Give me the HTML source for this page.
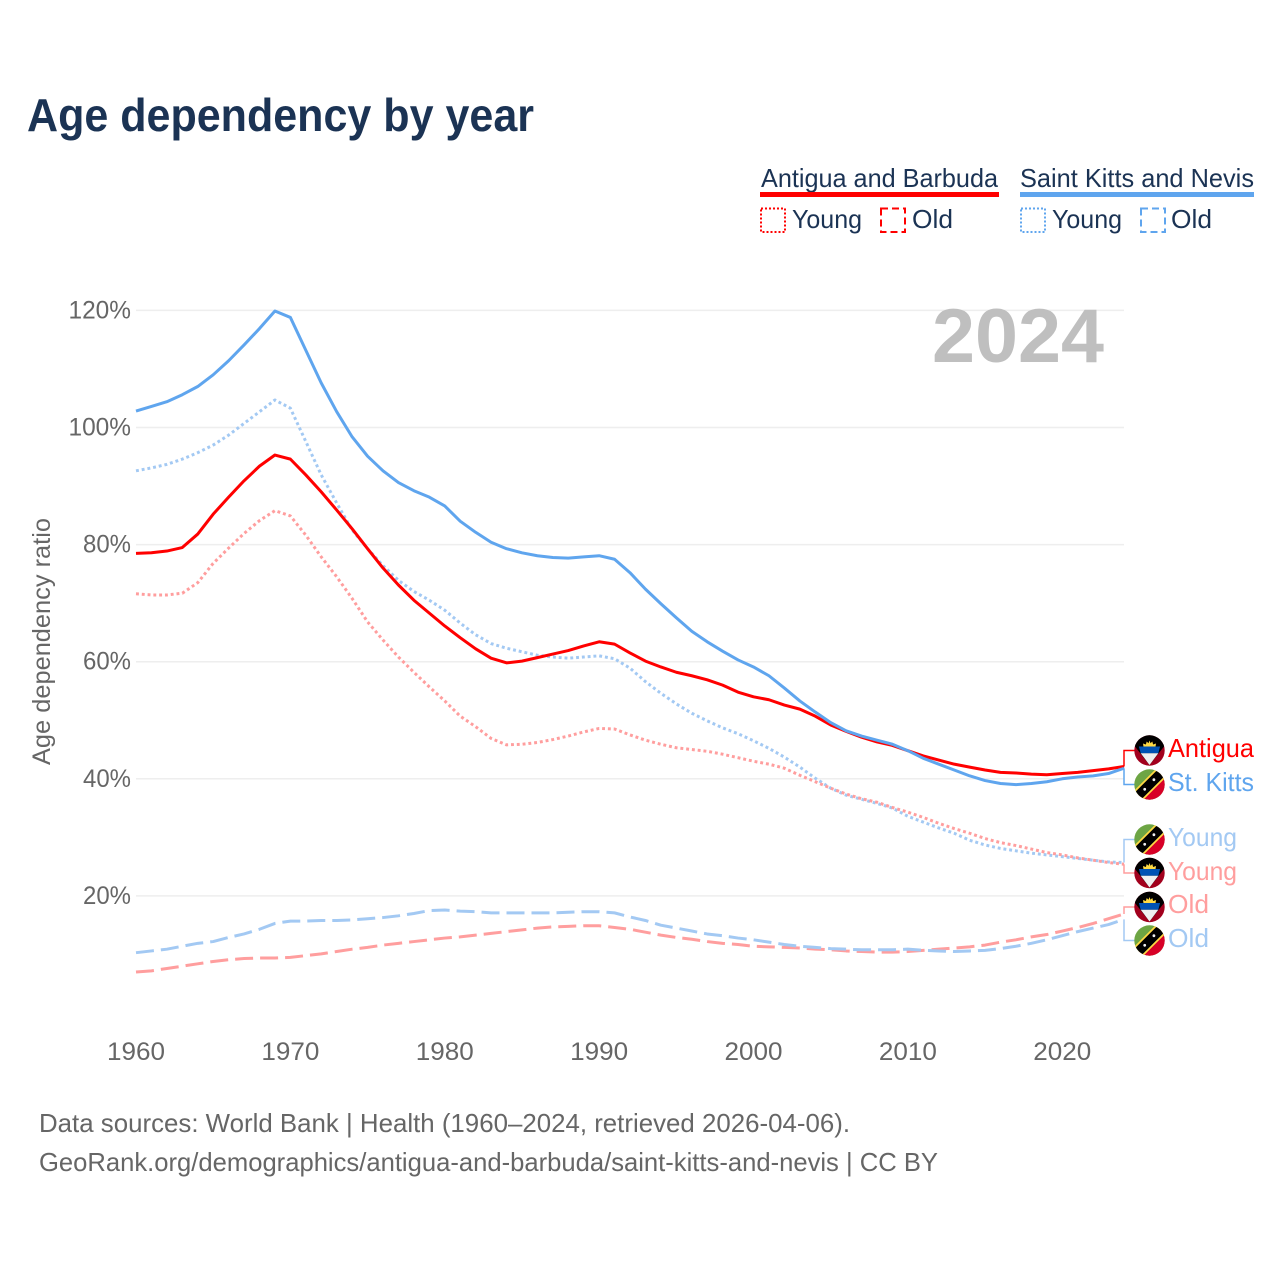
<!DOCTYPE html>
<html lang="en">
<head>
<meta charset="utf-8">
<title>Age dependency by year</title>
<style>
html,body{margin:0;padding:0;background:#fff;}
svg{display:block;}
text{font-family:"Liberation Sans",sans-serif;}
</style>
</head>
<body>
<svg id="chart" xmlns="http://www.w3.org/2000/svg" width="1280" height="1280" viewBox="0 0 1280 1280">
<defs>
<clipPath id="flag-clip"><circle cx="0" cy="0" r="15.2"/></clipPath>
<g id="flag-ag" clip-path="url(#flag-clip)">
<rect x="-16" y="-16" width="32" height="32" fill="#a2001d"/>
<polygon points="0,14.5 24,-16 -24,-16" fill="#000"/>
<polygon points="-6,-3.6 -6.5,-7 -3.6,-6 -2.8,-9 -1,-7.2 0,-10 1,-7.2 2.8,-9 3.6,-6 6.5,-7 6,-3.6" fill="#ffda44"/>
<polygon points="-10.6,-4 10.6,-4 8.8,2.7 -8.8,2.7" fill="#0052b4"/>
<polygon points="-8.8,2.7 8.8,2.7 0,14.5" fill="#f0f0f0"/>
</g>
<g id="flag-kn" clip-path="url(#flag-clip)">
<rect x="-16" y="-16" width="32" height="32" fill="#6da544"/>
<polygon points="16,-16 16,16 -16,16" fill="#d80027"/>
<line x1="-17" y1="17" x2="17" y2="-17" stroke="#ffda44" stroke-width="13"/>
<line x1="-17" y1="17" x2="17" y2="-17" stroke="#000" stroke-width="9.5"/>
<circle cx="-4.8" cy="4.8" r="1.4" fill="#f0f0f0"/>
<circle cx="4.4" cy="-4.8" r="1.4" fill="#f0f0f0"/>
</g>
</defs>

<text x="27" y="131" font-size="46" font-weight="700" fill="#1b3354" textLength="507" lengthAdjust="spacingAndGlyphs">Age dependency by year</text>

<g>
<text x="761" y="187" font-size="26" fill="#1b3354" textLength="237" lengthAdjust="spacingAndGlyphs">Antigua and Barbuda</text>
<rect x="760" y="192" width="239" height="5" fill="#ff0000"/>
<rect x="761" y="208.5" width="24" height="23.5" fill="none" stroke="#ff0000" stroke-width="2" stroke-dasharray="2 2"/>
<text x="792" y="228" font-size="26" fill="#1b3354" textLength="70" lengthAdjust="spacingAndGlyphs">Young</text>
<rect x="881" y="208.5" width="24" height="23.5" fill="none" stroke="#ff0000" stroke-width="2" stroke-dasharray="7 4"/>
<text x="912" y="228" font-size="26" fill="#1b3354" textLength="41" lengthAdjust="spacingAndGlyphs">Old</text>
<text x="1020" y="187" font-size="26" fill="#1b3354" textLength="234" lengthAdjust="spacingAndGlyphs">Saint Kitts and Nevis</text>
<rect x="1020" y="192" width="234" height="5" fill="#5fa5ee"/>
<rect x="1021" y="208.5" width="24" height="23.5" fill="none" stroke="#5fa5ee" stroke-width="2" stroke-dasharray="2 2"/>
<text x="1052" y="228" font-size="26" fill="#1b3354" textLength="70" lengthAdjust="spacingAndGlyphs">Young</text>
<rect x="1141" y="208.5" width="24" height="23.5" fill="none" stroke="#5fa5ee" stroke-width="2" stroke-dasharray="7 4"/>
<text x="1171" y="228" font-size="26" fill="#1b3354" textLength="41" lengthAdjust="spacingAndGlyphs">Old</text>
</g>

<g id="grid"></g>
<g id="y-ticks"></g>
<g id="x-ticks"></g>

<text x="932" y="362" font-size="76" font-weight="700" fill="#bfbfbf" textLength="172" lengthAdjust="spacingAndGlyphs">2024</text>

<text transform="translate(50,765) rotate(-90)" x="0" y="0" font-size="25" fill="#666666" textLength="247" lengthAdjust="spacingAndGlyphs">Age dependency ratio</text>

<g id="series"></g>
<g id="connectors"></g>

<g>
<use href="#flag-ag" x="1149.5" y="750.5"/>
<use href="#flag-kn" x="1149.5" y="784.5"/>
<use href="#flag-kn" x="1149.5" y="839.5"/>
<use href="#flag-ag" x="1149.5" y="873"/>
<use href="#flag-ag" x="1149.5" y="907"/>
<use href="#flag-kn" x="1149.5" y="940.5"/>
<text x="1168" y="757" font-size="26" fill="#ff0000" textLength="86" lengthAdjust="spacingAndGlyphs">Antigua</text>
<text x="1168" y="791" font-size="26" fill="#5fa5ee" textLength="86" lengthAdjust="spacingAndGlyphs">St. Kitts</text>
<text x="1168" y="846" font-size="26" fill="#a3c9f3" textLength="69" lengthAdjust="spacingAndGlyphs">Young</text>
<text x="1168" y="880" font-size="26" fill="#ff9e9e" textLength="69" lengthAdjust="spacingAndGlyphs">Young</text>
<text x="1168" y="913" font-size="26" fill="#ff9e9e" textLength="41" lengthAdjust="spacingAndGlyphs">Old</text>
<text x="1168" y="947" font-size="26" fill="#a3c9f3" textLength="41" lengthAdjust="spacingAndGlyphs">Old</text>
</g>

<text x="39" y="1132" font-size="26" fill="#666666" textLength="811" lengthAdjust="spacingAndGlyphs">Data sources: World Bank | Health (1960–2024, retrieved 2026-04-06).</text>
<text x="39" y="1171" font-size="26" fill="#666666" textLength="899" lengthAdjust="spacingAndGlyphs">GeoRank.org/demographics/antigua-and-barbuda/saint-kitts-and-nevis | CC BY</text>
</svg>

<script>
const years = [1960,1961,1962,1963,1964,1965,1966,1967,1968,1969,1970,1971,1972,1973,1974,1975,1976,1977,1978,1979,1980,1981,1982,1983,1984,1985,1986,1987,1988,1989,1990,1991,1992,1993,1994,1995,1996,1997,1998,1999,2000,2001,2002,2003,2004,2005,2006,2007,2008,2009,2010,2011,2012,2013,2014,2015,2016,2017,2018,2019,2020,2021,2022,2023,2024];
const antiguaTotal = [78.5,78.6,78.9,79.5,81.8,85.2,88.1,90.9,93.4,95.3,94.6,91.9,89.0,85.9,82.7,79.3,76.0,73.1,70.5,68.3,66.1,64.1,62.2,60.6,59.8,60.1,60.7,61.3,61.9,62.7,63.4,63.0,61.5,60.1,59.1,58.2,57.6,56.9,56.0,54.8,54.0,53.5,52.6,51.9,50.7,49.2,48.1,47.1,46.3,45.7,44.8,43.9,43.2,42.5,42.0,41.5,41.1,41.0,40.8,40.7,40.9,41.1,41.4,41.7,42.1];
const kittsTotal = [102.8,103.6,104.4,105.6,107.0,109.0,111.4,114.1,116.9,119.9,118.8,113.2,107.6,102.7,98.4,95.1,92.6,90.6,89.2,88.1,86.6,84.0,82.1,80.4,79.3,78.6,78.1,77.8,77.7,77.9,78.1,77.5,75.2,72.4,69.9,67.5,65.2,63.4,61.8,60.3,59.1,57.6,55.5,53.3,51.4,49.6,48.2,47.3,46.6,45.9,44.8,43.5,42.5,41.5,40.5,39.7,39.2,39.0,39.2,39.5,40.0,40.3,40.5,40.9,41.8];
const kittsYoung = [92.6,93.1,93.7,94.6,95.7,97.0,98.7,100.7,102.7,104.7,103.3,97.6,91.9,87.1,82.5,79.3,76.4,73.9,72.0,70.5,68.8,66.6,64.6,63.1,62.3,61.7,61.1,60.8,60.6,60.8,61.0,60.5,58.9,56.6,54.6,52.8,51.2,49.9,48.7,47.7,46.5,45.2,43.7,42.0,40.1,38.4,37.2,36.5,35.8,35.0,33.6,32.6,31.6,30.7,29.5,28.7,28.1,27.7,27.3,27.0,26.7,26.4,26.1,25.8,25.7];
const antiguaYoung = [71.6,71.4,71.4,71.7,73.5,76.8,79.4,81.9,84.1,85.8,84.9,81.6,77.9,74.5,70.8,66.8,63.7,60.8,58.2,55.7,53.3,50.7,48.9,46.9,45.8,45.9,46.2,46.7,47.3,48.0,48.6,48.5,47.5,46.6,45.9,45.3,45.0,44.7,44.2,43.6,43.0,42.5,41.8,40.6,39.5,38.4,37.4,36.6,36.0,35.1,34.3,33.4,32.4,31.5,30.7,29.8,29.1,28.6,28.0,27.4,27.0,26.5,26.1,25.7,25.4];
const kittsOld = [10.3,10.6,10.9,11.4,11.9,12.2,12.9,13.5,14.3,15.3,15.7,15.7,15.8,15.8,15.9,16.1,16.3,16.6,17.0,17.5,17.6,17.4,17.3,17.1,17.1,17.1,17.1,17.1,17.2,17.3,17.3,17.1,16.4,15.8,15.0,14.5,14.0,13.5,13.2,12.8,12.5,12.1,11.7,11.4,11.2,11.0,10.9,10.8,10.8,10.8,10.9,10.7,10.6,10.5,10.6,10.7,11.0,11.4,11.9,12.5,13.2,13.9,14.5,15.1,16.0];
const antiguaOld = [7.0,7.2,7.6,8.0,8.4,8.8,9.1,9.3,9.4,9.4,9.5,9.8,10.1,10.5,10.9,11.2,11.6,11.9,12.2,12.5,12.8,13.0,13.3,13.6,13.9,14.2,14.5,14.7,14.8,14.9,14.9,14.6,14.3,13.8,13.3,12.9,12.6,12.2,11.9,11.7,11.4,11.3,11.2,11.1,10.9,10.8,10.6,10.5,10.4,10.4,10.5,10.7,10.9,11.1,11.3,11.6,12.1,12.5,13.0,13.4,14.0,14.6,15.3,16.1,16.9];
const yTickValues = [20,40,60,80,100,120];
const xTickValues = [1960,1970,1980,1990,2000,2010,2020];

const NS = 'http://www.w3.org/2000/svg';
const plotLeft = 136, plotRight = 1124;
const xScale = function (year) { return plotLeft + (year - 1960) * (plotRight - plotLeft) / (2024 - 1960); };
const yScale = function (value) { return 1013 - value * 5.855; };

const gridGroup = document.getElementById('grid');
const yTickGroup = document.getElementById('y-ticks');
const xTickGroup = document.getElementById('x-ticks');
const seriesGroup = document.getElementById('series');
const connectorGroup = document.getElementById('connectors');

yTickValues.forEach(function (v) {
  const line = document.createElementNS(NS, 'line');
  
  
  line.setAttribute('x1', plotLeft);
  line.setAttribute('x2', plotRight);
  line.setAttribute('y1', yScale(v));
  line.setAttribute('y2', yScale(v));
  line.setAttribute('stroke', '#eeeeee');
  line.setAttribute('stroke-width', '1.5');
  gridGroup.appendChild(line);

  const label = document.createElementNS(NS, 'text');
  
  
  label.setAttribute('x', 131);
  label.setAttribute('y', yScale(v) + 8);
  label.setAttribute('text-anchor', 'end');
  label.setAttribute('font-size', '25');
  label.setAttribute('fill', '#666666');
  label.setAttribute('textLength', String(v).length * 14.5 + 19);
  label.setAttribute('lengthAdjust', 'spacingAndGlyphs');
  label.textContent = v + '%';
  yTickGroup.appendChild(label);
});

xTickValues.forEach(function (yr) {
  const label = document.createElementNS(NS, 'text');
  
  
  label.setAttribute('x', xScale(yr));
  label.setAttribute('y', 1060);
  label.setAttribute('text-anchor', 'middle');
  label.setAttribute('font-size', '25');
  label.setAttribute('fill', '#666666');
  label.setAttribute('textLength', 58);
  label.setAttribute('lengthAdjust', 'spacingAndGlyphs');
  label.textContent = yr;
  xTickGroup.appendChild(label);
});

function drawLine(name, values, color, dash) {
  const path = document.createElementNS(NS, 'path');
  
  
  path.setAttribute('d', values.map(function (v, i) {
    return (i ? 'L' : 'M') + xScale(years[i]).toFixed(2) + ' ' + yScale(v).toFixed(2);
  }).join(' '));
  path.setAttribute('fill', 'none');
  path.setAttribute('stroke', color);
  path.setAttribute('stroke-width', '3');
  path.setAttribute('stroke-linejoin', 'round');
  if (dash) path.setAttribute('stroke-dasharray', dash);
  seriesGroup.appendChild(path);
}

function drawConnector(name, values, color, labelY) {
  const last = yScale(values[values.length - 1]);
  const path = document.createElementNS(NS, 'path');
  
  
  path.setAttribute('d', 'M' + plotRight + ' ' + last.toFixed(2) + ' V' + labelY + ' H1136');
  path.setAttribute('fill', 'none');
  path.setAttribute('stroke', color);
  path.setAttribute('stroke-width', '1.5');
  connectorGroup.appendChild(path);
}

const RED = '#ff0000', BLUE = '#5fa5ee', LRED = '#ff9e9e', LBLUE = '#a3c9f3';
drawLine('line-antigua-old', antiguaOld, LRED, '18 7');
drawLine('line-stkitts-old', kittsOld, LBLUE, '18 7');
drawLine('line-stkitts-young', kittsYoung, LBLUE, '2.9 2.9');
drawLine('line-antigua-young', antiguaYoung, LRED, '2.9 2.9');
drawLine('line-antigua-total', antiguaTotal, RED);
drawLine('line-stkitts-total', kittsTotal, BLUE);

drawConnector('connector-antigua-total', antiguaTotal, RED, 750.5);
drawConnector('connector-stkitts-total', kittsTotal, BLUE, 784.5);
drawConnector('connector-stkitts-young', kittsYoung, LBLUE, 839.5);
drawConnector('connector-antigua-young', antiguaYoung, LRED, 873);
drawConnector('connector-antigua-old', antiguaOld, LRED, 907);
drawConnector('connector-stkitts-old', kittsOld, LBLUE, 940.5);
</script>
</body>
</html>
